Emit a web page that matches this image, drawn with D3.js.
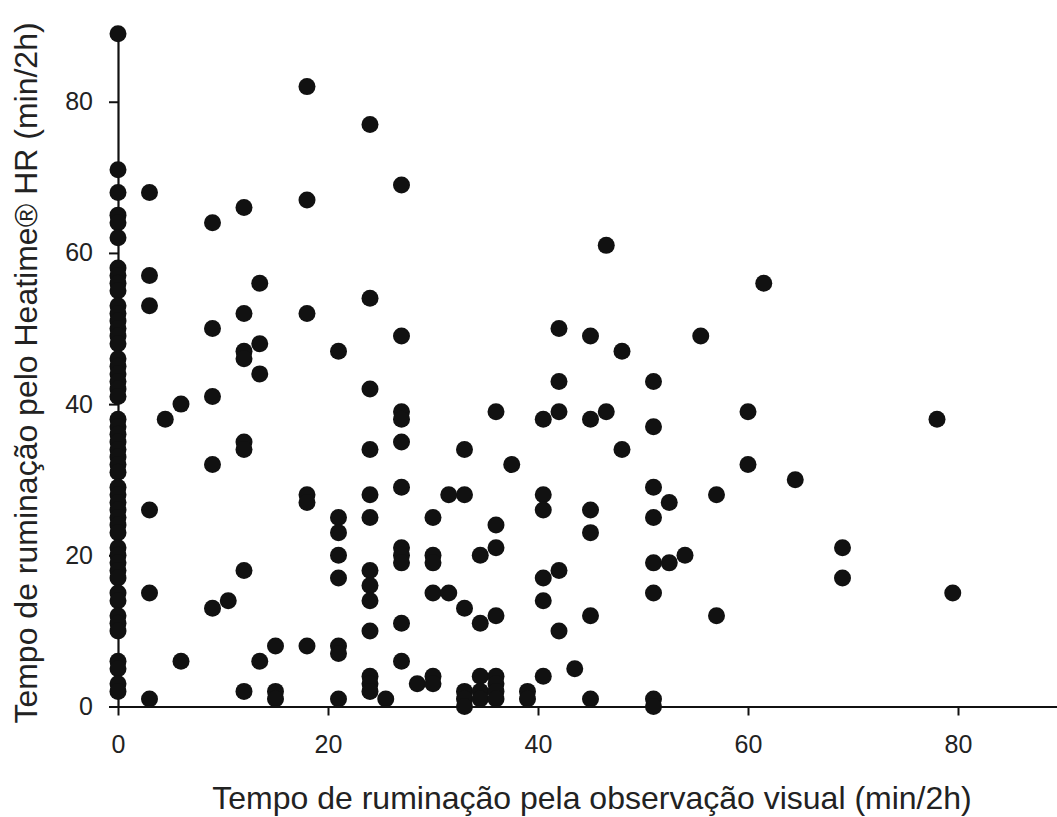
<!DOCTYPE html>
<html><head><meta charset="utf-8">
<script src="https://cdn.jsdelivr.net/npm/d3@7/dist/d3.min.js"></script>
<style>body{margin:0;background:#fff}svg{display:block}</style>
</head><body>
<svg id="chart" width="1057" height="817"></svg>
<script>
// ---- data ----
const xTicks = [0, 20, 40, 60, 80];
const yTicks = [0, 20, 40, 60, 80];
const xTitle = "Tempo de ruminação pela observação visual (min/2h)";
const yTitle = "Tempo de ruminação pelo Heatime® HR (min/2h)";
// x positions (visual observation, min/2h) and the Heatime values observed at each x
const columnX = [0, 3, 4.5, 6, 9, 10.5, 12, 13.5, 15, 18, 21, 24, 25.5, 27, 28.5, 30, 31.5, 33, 34.5, 36, 37.5, 39, 40.5, 42, 43.5, 45, 46.5, 48, 51, 52.5, 54, 55.5, 57, 60, 61.5, 64.5, 69, 78, 79.5];
const columnY = [
  [89,71,68,65,64,62,58,57,56,55,53,52,51,50,49,48,46,45,44,43,42,41,38,37,36,35,34,33,32,31,29,28,27,26,25,24,23,21,20,19,18,17,15,14,12,11,10,6,5,3,2],
  [68,57,53,26,15,1],
  [38],
  [40,6],
  [64,50,41,32,13],
  [14],
  [66,52,47,46,35,34,18,2],
  [56,48,44,6],
  [8,2,1],
  [82,67,52,28,27,8],
  [47,25,23,20,17,8,7,1],
  [77,54,42,34,28,25,18,16,14,10,4,3,2],
  [1],
  [69,49,39,38,35,29,21,20,19,11,6],
  [3],
  [25,20,19,15,4,3],
  [28,15],
  [34,28,13,2,1,0],
  [20,11,4,2,1],
  [39,24,21,12,4,3,2,1],
  [32],
  [2,1],
  [38,28,26,17,14,4],
  [50,43,39,18,10],
  [5],
  [49,38,26,23,12,1],
  [61,39],
  [47,34],
  [43,37,29,25,19,15,1,0],
  [27,19],
  [20],
  [49],
  [28,12],
  [39,32],
  [56],
  [30],
  [21,17],
  [38],
  [15]
];
const points = columnX.flatMap((x, i) => columnY[i].map(y => ({x, y})));

// ---- drawing ----
const svg = d3.select("#chart");
const x = d3.scaleLinear().domain([0, 90]).range([118, 1063]);
const y = d3.scaleLinear().domain([0, 89]).range([706.5, 33.7]);
const font = "'Liberation Sans', Arial, sans-serif";

const xAxis = svg.append("g").attr("transform", `translate(0,${y(0)})`)
  .call(d3.axisBottom(x).tickValues(xTicks).tickSize(9).tickSizeOuter(0).tickPadding(20).tickFormat(d3.format("d")));
const yAxis = svg.append("g").attr("transform", `translate(${x(0)},0)`)
  .call(d3.axisLeft(y).tickValues(yTicks).tickSize(9).tickSizeOuter(0).tickPadding(16).tickFormat(d3.format("d")));
[xAxis, yAxis].forEach(g => {
  g.select(".domain").attr("stroke", "#111").attr("stroke-width", 2.2);
  g.selectAll(".tick line").attr("stroke", "#111").attr("stroke-width", 2);
  g.selectAll(".tick text").attr("fill", "#222").style("font-family", font).style("font-size", "25px");
});

svg.append("g").selectAll("circle").data(points).join("circle")
  .attr("cx", d => x(d.x)).attr("cy", d => y(d.y)).attr("r", 8.5).attr("fill", "#111");

svg.append("text").attr("x", 592).attr("y", 809).attr("text-anchor", "middle")
  .attr("fill", "#222").style("font-family", font).style("font-size", "32px").text(xTitle);
svg.append("text").attr("transform", "translate(37,373) rotate(-90)").attr("text-anchor", "middle")
  .attr("fill", "#222").style("font-family", font).style("font-size", "32px").text(yTitle);
</script>
</body></html>
